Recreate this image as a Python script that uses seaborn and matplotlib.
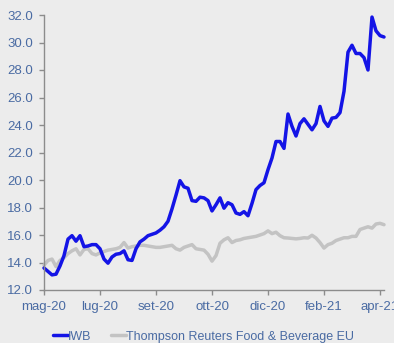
import matplotlib
matplotlib.use("Agg")
import matplotlib.pyplot as plt
import seaborn as sns
import pandas as pd

# Price series sampled at regular intervals (about every 3 trading days)
iwb = [13.6, 13.35, 13.1, 13.15, 13.75, 14.5, 15.7, 15.95, 15.55, 15.95,
       15.15, 15.2, 15.3, 15.3, 15.0, 14.25, 13.95, 14.4, 14.6, 14.65,
       14.85, 14.2, 14.15, 15.0, 15.5, 15.7, 15.95, 16.05, 16.15, 16.35,
       16.6, 17.0, 17.9, 18.9, 19.95, 19.5, 19.4, 18.5, 18.45, 18.75,
       18.7, 18.5, 17.75, 18.2, 18.7, 17.95, 18.35, 18.2, 17.6, 17.5,
       17.7, 17.4, 18.3, 19.3, 19.6, 19.8, 20.75, 21.6, 22.8, 22.8,
       22.3, 24.8, 23.9, 23.2, 24.1, 24.45, 24.05, 23.65, 24.1, 25.35,
       24.3, 23.9, 24.5, 24.55, 24.9, 26.45, 29.3, 29.8, 29.2, 29.2,
       28.9, 28.0, 31.85, 30.85, 30.5, 30.4]

food_bev = [13.8, 14.15, 14.25, 13.7, 14.15, 14.35, 14.65, 14.85, 15.0, 14.55,
            14.95, 15.0, 14.65, 14.55, 14.7, 14.8, 14.9, 14.95, 15.0, 15.1,
            15.45, 15.05, 15.15, 15.2, 15.25, 15.25, 15.2, 15.15, 15.1, 15.1,
            15.15, 15.2, 15.25, 15.0, 14.9, 15.1, 15.2, 15.3, 15.0, 14.95,
            14.9, 14.6, 14.1, 14.5, 15.4, 15.65, 15.8, 15.45, 15.6, 15.65,
            15.75, 15.8, 15.85, 15.9, 16.0, 16.1, 16.3, 16.1, 16.2, 15.95,
            15.8, 15.78, 15.75, 15.72, 15.75, 15.8, 15.78, 15.98, 15.78, 15.45,
            15.05, 15.3, 15.4, 15.6, 15.7, 15.8, 15.8, 15.9, 15.9, 16.4,
            16.5, 16.6, 16.5, 16.8, 16.85, 16.75]

tick_labels = ["mag-20", "lug-20", "set-20", "ott-20", "dic-20", "feb-21", "apr-21"]
tick_step = 14
y_ticks = [12, 14, 16, 18, 20, 22, 24, 26, 28, 30, 32]

series_names = ["IWB", "Thompson Reuters Food & Beverage EU"]
colors = ["#1414e6", "#c3c3c3"]

df = pd.concat([
    pd.DataFrame({"t": range(len(iwb)), "value": iwb, "series": series_names[0]}),
    pd.DataFrame({"t": range(len(food_bev)), "value": food_bev, "series": series_names[1]}),
])

sns.set_theme(style="white")
plt.rcParams["font.family"] = ["Liberation Sans", "DejaVu Sans"]

bg = "#ececec"
text_color = "#4a6ba3"
spine_color = "#8c8c8c"

fig = plt.figure(figsize=(3.94, 3.43), dpi=100, facecolor=bg)
ax = fig.add_axes([44 / 394, 1 - 290 / 343, (384 - 44) / 394, (290 - 15) / 343])
ax.set_facecolor(bg)

# grey series first so the blue line sits on top
sns.lineplot(data=df, x="t", y="value", hue="series",
             hue_order=series_names[::-1], palette=colors[::-1],
             linewidth=2.5, ax=ax, legend=False, clip_on=False)

ax.set_xlim(0, len(iwb) - 1)
ax.set_ylim(12, 32)
ax.set_yticks(y_ticks)
ax.set_yticklabels([f"{v:.1f}" for v in y_ticks])
ax.set_xticks([i * tick_step for i in range(len(tick_labels))])
ax.set_xticklabels(tick_labels)
ax.set_xlabel("")
ax.set_ylabel("")

for side in ["top", "right"]:
    ax.spines[side].set_visible(False)
for side in ["left", "bottom"]:
    ax.spines[side].set_color(spine_color)
    ax.spines[side].set_linewidth(1.0)

ax.tick_params(axis="both", which="major", direction="out", length=3.5, width=1.0,
               color=spine_color, labelcolor=text_color, labelsize=9.5, pad=4.5,
               left=True, bottom=True)

handles = [plt.Line2D([], [], color=c, linewidth=2.5) for c in colors]
leg = fig.legend(handles, series_names, loc="center", bbox_to_anchor=(0.516, 0.018),
                 ncol=2, frameon=False, fontsize=9.0, handlelength=1.2,
                 handletextpad=0.0, columnspacing=1.6, borderaxespad=0)
for t in leg.get_texts():
    t.set_color(text_color)

fig.savefig("out.png", dpi=100, facecolor=bg)
